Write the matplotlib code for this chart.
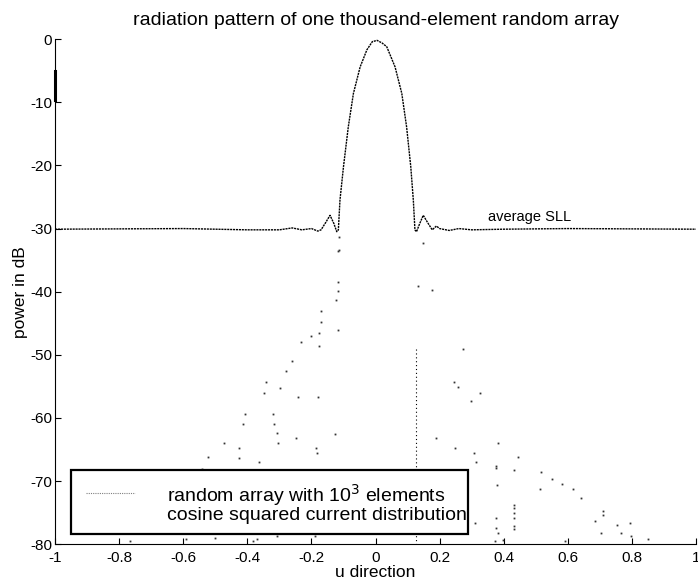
import numpy as np
import matplotlib.pyplot as plt
from matplotlib.patches import Rectangle

plt.rcParams['font.family'] = ['Liberation Sans', 'DejaVu Sans']
plt.rcParams['axes.unicode_minus'] = False

# radiation pattern (u, dB)
u_pat = [-1.0, -0.6, -0.4, -0.3, -0.26, -0.23, -0.2, -0.18, -0.17, -0.155, -0.142,
         -0.13, -0.121, -0.116, -0.111, -0.10, -0.085, -0.069, -0.048, -0.027, -0.01,
         0.005, 0.02, 0.035, 0.061, 0.082, 0.097, 0.110, 0.118, 0.123, 0.128, 0.138,
         0.149, 0.162, 0.177, 0.19, 0.2, 0.23, 0.26, 0.3, 0.4, 0.6, 1.0]
p_pat = [-30.1, -30.0, -30.2, -30.2, -29.9, -30.2, -30.0, -30.4, -30.2, -29.0, -27.9,
         -29.2, -30.5, -30.2, -25.5, -20.2, -13.9, -8.6, -4.4, -1.7, -0.4,
         -0.2, -0.6, -1.2, -4.4, -8.6, -13.9, -20.2, -25.5, -30.2, -30.5, -29.2,
         -27.9, -29.0, -30.2, -29.6, -30.0, -30.3, -30.0, -30.2, -30.1, -30.0, -30.1]

# deep null at u ~ 0.125
u_null = [0.125, 0.125]
p_null = [-49, -80]

# isolated samples below the sidelobe floor
u_dots = [-0.341, -0.299, -0.348, -0.241, -0.181, -0.408, -0.320, -0.414, -0.318, -0.306,
          -0.125, -0.247, -0.474, -0.304, -0.425, -0.185, -0.184, -0.522, -0.425, -0.365,
          -0.543, 0.244, 0.258, 0.325, 0.299, 0.188, 0.383, 0.247, 0.306, 0.446, 0.313,
          0.376, 0.432, 0.376, 0.515, 0.550, 0.581, 0.380, 0.513, 0.617, 0.641, 0.432,
          0.432, 0.710, 0.432, 0.710, 0.376, 0.432, 0.684, 0.753, 0.794, 0.432, 0.376,
          0.432, 0.705, 0.767, 0.309, 0.372, 0.850, 0.798, 0.397, 0.592, 0.383,
          -0.766, -0.592, -0.501, -0.369, -0.306, -0.383, -0.188,
          -0.116, -0.116, -0.116, -0.123, -0.170, -0.171, -0.175, -0.118, -0.232, -0.176,
          0.134, 0.177, 0.272, -0.113, -0.114, 0.147, -0.20, -0.26, -0.28]
p_dots = [-54.3, -55.2, -56.1, -56.6, -56.7, -59.3, -59.3, -60.9, -60.9, -62.4,
          -62.5, -63.2, -63.9, -63.9, -64.8, -64.8, -65.6, -66.2, -66.4, -66.9,
          -68.0, -54.3, -55.1, -56.1, -57.3, -63.2, -63.9, -64.8, -65.6, -66.2, -66.9,
          -67.6, -68.2, -67.9, -68.6, -69.7, -70.4, -70.6, -71.3, -71.3, -72.7, -73.7,
          -74.2, -74.8, -75.0, -75.3, -75.8, -75.8, -76.3, -76.9, -76.7, -77.1, -77.4,
          -77.6, -78.2, -78.2, -76.6, -79.5, -79.1, -78.7, -79.3, -79.5, -78.2,
          -79.5, -79.2, -79.0, -79.2, -78.7, -79.5, -78.7,
          -33.5, -38.5, -39.9, -41.3, -43.1, -44.8, -46.5, -46.0, -48.0, -48.6,
          -39.1, -39.8, -49.1, -31.4, -33.4, -32.3, -47.0, -51.0, -52.5]

# dark mark on the left axis
u_mark = [-1.0, -1.0]
p_mark = [-5.0, -9.7]

xticks = [-1, -0.8, -0.6, -0.4, -0.2, 0, 0.2, 0.4, 0.6, 0.8, 1]
xtick_labels = ['-1', '-0.8', '-0.6', '-0.4', '-0.2', '0', '0.2', '0.4', '0.6', '0.8', '1']
yticks = [0, -10, -20, -30, -40, -50, -60, -70, -80]
ytick_labels = ['0', '-10', '-20', '-30', '-40', '-50', '-60', '-70', '-80']

fig = plt.figure(figsize=(6.98, 5.84), dpi=100)
ax = fig.add_axes([0.079, 0.068, 0.918, 0.865])

ax.plot(u_pat, p_pat, color='black', lw=1.0, linestyle=(0, (1.5, 0.6)))
ax.plot(u_null, p_null, color='black', lw=0.8, linestyle=(0, (1, 2.5)))
ax.plot(u_dots, p_dots, linestyle='none', marker='s', markersize=1.3,
        color='#333333', markeredgewidth=0)
ax.plot(u_mark, p_mark, color='black', lw=2.2, clip_on=False)

ax.text(0.35, -28.2, 'average SLL', fontsize=10.5, va='center', ha='left')

# legend box drawn like the MATLAB one
ax.add_patch(Rectangle((-0.95, -78.3), 1.24, 10.1, facecolor='white',
                       edgecolor='black', lw=1.6, zorder=5))
ax.plot([-0.905, -0.752], [-71.8, -71.8], color='gray', lw=0.8,
        linestyle=(0, (1, 1)), zorder=6)
ax.text(-0.65, -72.2, 'random array with 10$^3$ elements', fontsize=14,
        va='center', ha='left', zorder=6)
ax.text(-0.65, -75.4, 'cosine squared current distribution', fontsize=14,
        va='center', ha='left', zorder=6)

ax.set_xlim(-1, 1)
ax.set_ylim(-80, 0)
ax.set_xticks(xticks)
ax.set_xticklabels(xtick_labels)
ax.set_yticks(yticks)
ax.set_yticklabels(ytick_labels)
ax.tick_params(direction='in', length=4, labelsize=11)
ax.tick_params(axis='x', pad=5)
ax.tick_params(axis='y', pad=2)
ax.spines['top'].set_visible(False)
ax.spines['right'].set_visible(False)
ax.set_xlabel('u direction', fontsize=12.5, labelpad=0)
ax.set_ylabel('power in dB', fontsize=12.5, labelpad=2)
ax.set_title('radiation pattern of one thousand-element random array',
             fontsize=14, pad=10)

fig.savefig('out.png', dpi=100)
